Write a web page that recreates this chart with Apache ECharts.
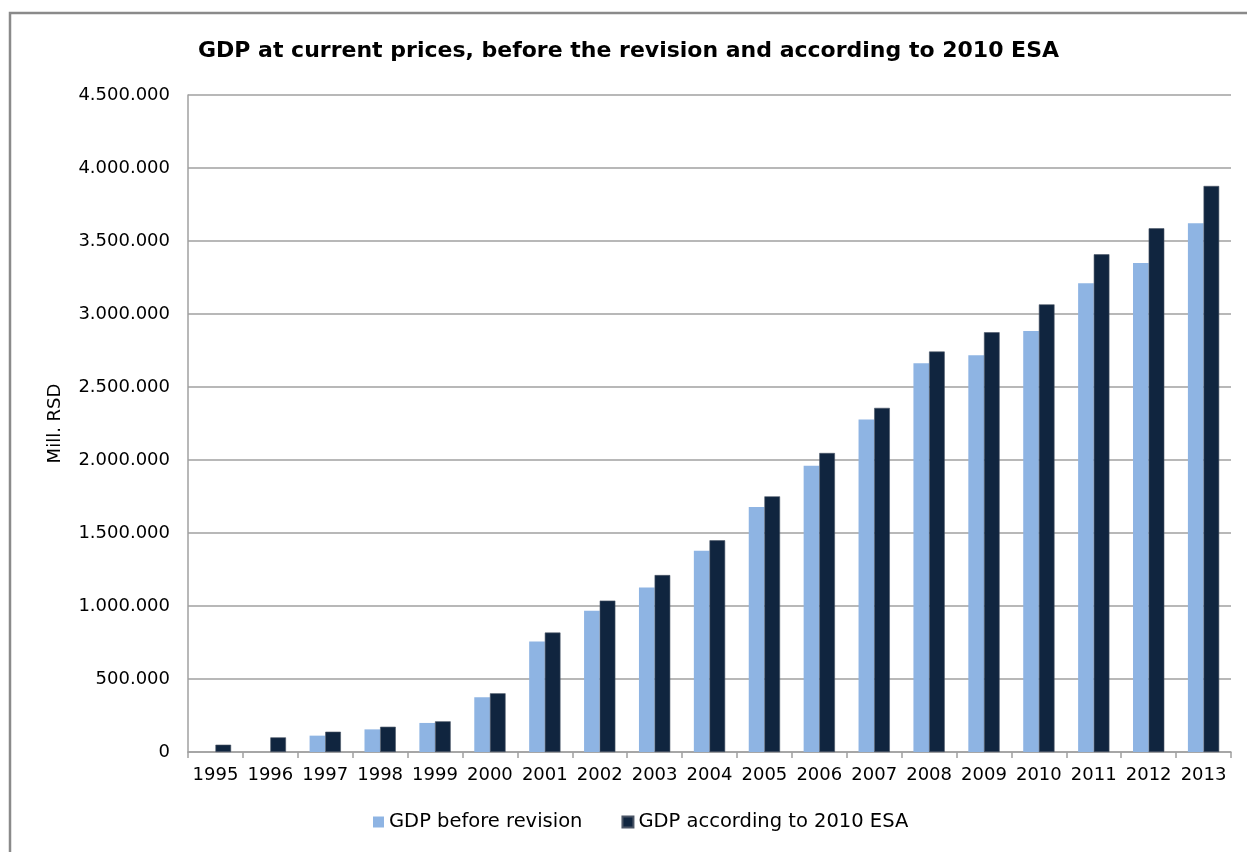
<!DOCTYPE html>
<html>
<head>
<meta charset="utf-8">
<script src="https://cdn.jsdelivr.net/npm/echarts@6/dist/echarts.min.js"></script>
<style>
html,body{margin:0;padding:0;background:#fff;}
#chart{width:1247px;height:852px;}
</style>
</head>
<body>
<div id="chart"></div>
<script>
const years = ['1995','1996','1997','1998','1999','2000','2001','2002','2003','2004','2005','2006','2007','2008','2009','2010','2011','2012','2013'];
const gdpBefore = [null, null, 112000, 155000, 199000, 375000, 756000, 968000, 1126000, 1379000, 1678000, 1960000, 2278000, 2662000, 2717000, 2884000, 3210000, 3349000, 3621000];
const gdpEsa = [50000, 100000, 139000, 173000, 210000, 402000, 818000, 1037000, 1212000, 1450000, 1751000, 2048000, 2357000, 2743000, 2875000, 3066000, 3409000, 3587000, 3877000];
const seriesNames = ['GDP before revision', 'GDP according to 2010 ESA'];
const titleText = 'GDP at current prices, before the revision and according to 2010 ESA';
const yAxisName = 'Mill. RSD';

const fmt = v => String(v).replace(/\B(?=(\d{3})+(?!\d))/g, '.');
const font = 'DejaVu Sans, sans-serif';

const chart = echarts.init(document.getElementById('chart'));
chart.setOption({
  animation: false,
  backgroundColor: '#fff',
  title: {
    text: titleText,
    left: 193,
    top: 35,
    textStyle: {fontFamily: font, fontSize: 22, fontWeight: 'bold', color: '#000'}
  },
  graphic: [{
    type: 'rect',
    shape: {x: 10, y: 13, width: 1260, height: 900},
    style: {fill: 'none', stroke: '#8a8a8a', lineWidth: 2.5},
    silent: true
  }],
  legend: {
    data: seriesNames,
    bottom: 15,
    left: 368,
    itemWidth: 11,
    itemHeight: 11,
    itemGap: 39,
    icon: 'rect',
    textStyle: {fontFamily: font, fontSize: 19.5, color: '#000'}
  },
  grid: {left: 188, right: 16, top: 95, bottom: 100},
  xAxis: {
    type: 'category',
    data: years,
    axisLine: {lineStyle: {color: '#a0a0a0', width: 1.5}},
    axisTick: {show: true, length: 6, alignWithLabel: false, lineStyle: {color: '#a0a0a0', width: 1.5}},
    axisLabel: {fontFamily: font, fontSize: 18, color: '#000', margin: 14, interval: 0}
  },
  yAxis: {
    type: 'value',
    min: 0,
    max: 4500000,
    interval: 500000,
    name: yAxisName,
    nameLocation: 'middle',
    nameGap: 124,
    nameRotate: 90,
    nameTextStyle: {fontFamily: font, fontSize: 18, color: '#000'},
    axisLine: {show: true, lineStyle: {color: '#a0a0a0', width: 1.5}},
    axisTick: {show: false},
    splitLine: {lineStyle: {color: '#a0a0a0', width: 1.5}},
    axisLabel: {fontFamily: font, fontSize: 18, color: '#000', margin: 18, formatter: fmt}
  },
  series: [
    {
      name: seriesNames[0],
      type: 'bar',
      data: gdpBefore,
      barGap: '0%',
      barCategoryGap: '43%',
      itemStyle: {color: '#8EB4E3'}
    },
    {
      name: seriesNames[1],
      type: 'bar',
      data: gdpEsa,
      itemStyle: {color: '#10253F', borderColor: '#4a5566', borderWidth: 0.6}
    }
  ]
});
</script>
</body>
</html>
